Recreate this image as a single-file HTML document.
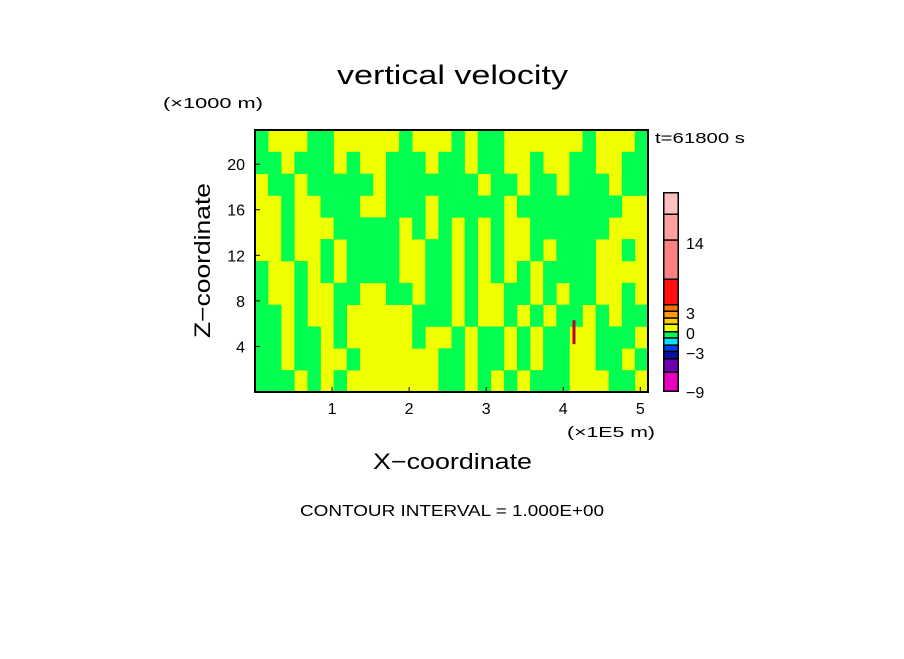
<!DOCTYPE html>
<html><head><meta charset="utf-8"><style>
body{margin:0;background:#fff;}
svg text{font-family:"Liberation Sans","DejaVu Sans",sans-serif;fill:#000;}
</style></head><body>
<svg id="chart" width="904" height="654" viewBox="0 0 904 654">
<rect width="904" height="654" fill="#fff"/>
<text x="337" y="84" font-size="27" textLength="231" lengthAdjust="spacingAndGlyphs">vertical velocity</text>
<text x="163" y="108" font-size="15" textLength="100" lengthAdjust="spacingAndGlyphs">(×1000 m)</text>
<text x="655" y="143" font-size="15" textLength="90" lengthAdjust="spacingAndGlyphs">t=61800 s</text>
<text x="567" y="437" font-size="15" textLength="88" lengthAdjust="spacingAndGlyphs">(×1E5 m)</text>
<text x="373" y="469" font-size="22" textLength="159" lengthAdjust="spacingAndGlyphs">X−coordinate</text>
<text x="0" y="0" font-size="22" textLength="155" lengthAdjust="spacingAndGlyphs" transform="translate(210,338) rotate(-90)">Z−coordinate</text>
<text x="300" y="516" font-size="16" textLength="304" lengthAdjust="spacingAndGlyphs">CONTOUR INTERVAL = 1.000E+00</text>
<g id="field"></g>
<g id="axes"></g>
<g id="cbar"></g>
</svg>
<script>
const xTicks=[1,2,3,4,5];
const zTicks=[4,8,12,16,20];
const xMax=5.1, zMax=23;
// coarse grid of contour band: 0 = yellow (0..1), 1 = green (-1..0); rows top->bottom
const gridRows=[
"GYYYGGYYYYYGYYYGYGGYYYYYYGYYYG",
"GGYGGGYGYYGGGYGGYGGYYGYYGGYYGG",
"YGGYGGGGGYGGGGGGGYGGYGGYGGGYGG",
"YYGYYGGGYYGGGYGGGGGYGGGGGGGGYY",
"YYGYYYGGGGGYGYGYGYGYYGGGGGGYYY",
"YYGYYGYGGGGYYGGYGYGYYGYGGGYYGY",
"GYYGYGYGGGGYYGGYGYGYGYGGGGYYYY",
"GYYGYYGGYYGGYGGYGYYGGYGYGGYYGY",
"GGYGYYGYYYYYGGGYGYYGYGYGGYGYGG",
"GGYGGYGYYYYYGYYGYGGYGYGGYYGGGY",
"GGYGGYYGYYYYYYGGYGGYGYGGYYGGYG",
"GGGYGYGYYYYYYYGGYGYGYGGGYYYGGY"];
const cbarColors=["#e800c0","#7000b0","#0a10a0","#0040ff","#00e4ff","#00ff50","#f0ff00","#ffd000","#ff9a00","#ff7000","#ff1010","#ff8080","#ffa0a0","#ffc0c0"];
const cbarLabelText=["−9","−3","0","3","14"];

const X0=255,X1=648,Y0=130,Y1=392;
const sx=v=>X0+v/xMax*(X1-X0);
const sz=v=>Y1-v/zMax*(Y1-Y0);
const NS="http://www.w3.org/2000/svg";
function mk(tag,attrs,parent){const e=document.createElementNS(NS,tag);for(const k in attrs)e.setAttribute(k,attrs[k]);parent.appendChild(e);return e;}
const field=document.getElementById('field');
const bg=mk('rect',{x:X0,y:Y0,width:X1-X0,height:Y1-Y0,fill:'#f0ff00'},field);


const nr=gridRows.length,nc=gridRows[0].length;
gridRows.forEach((row,r)=>row.split('').forEach((v,c)=>{
 if(v!=='G')return;
 const x=sx(c*xMax/nc),y=sz(zMax-r*zMax/nr);
 const e=mk('rect',{x:x,y:y,width:sx((c+1)*xMax/nc)-x+0.3,height:sz(zMax-(r+1)*zMax/nr)-y+0.3,fill:'#00ff50'},field);
 
 
}));
const upd=mk('rect',{x:sx(4.12),y:sz(6.3),width:3,height:sz(4.2)-sz(6.3),fill:'#c00030'},field);


const axes=document.getElementById('axes');
const fr=mk('rect',{x:X0,y:Y0,width:X1-X0,height:Y1-Y0,fill:'none',stroke:'#000','stroke-width':2},axes);


xTicks.forEach(t=>{
 const l=mk('line',{x1:sx(t),x2:sx(t),y1:Y1,y2:Y1-5,stroke:'#000'},axes);
 
 
 const tx=mk('text',{x:sx(t),y:Y1+22,'font-size':16,'text-anchor':'middle'},axes);tx.textContent=t;
 
 
});
zTicks.forEach(t=>{
 const l=mk('line',{x1:X0,x2:X0+5,y1:sz(t),y2:sz(t),stroke:'#000'},axes);
 
 
 const tx=mk('text',{x:X0-10,y:sz(t)+6,'font-size':16,'text-anchor':'end'},axes);tx.textContent=t;
 
 
});
const cb=document.getElementById('cbar');
const segH=[17.7,11.7,6,4.7,5.7,4.7,6,4.7,5.3,5,24,37.7,24.3,20];
const GAP=1.5;
const CX=664,CW=14;
const total=segH.reduce((a,b)=>a+b,0)+GAP*(segH.length+1);
const cbb=mk('rect',{x:CX-1,y:392-total,width:CW+2,height:total,fill:'#000'},cb);


let y=392-GAP;
cbarColors.forEach((col,i)=>{
 const h=segH[i];
 const e=mk('rect',{x:CX+0.5,y:y-h,width:CW-1,height:h,fill:col},cb);
 
 
 y-=h+GAP;
});
const labY=[398,359,339,319,249];
cbarLabelText.forEach((s,i)=>{
 const t=mk('text',{x:686,y:labY[i],'font-size':16},cb);t.textContent=s;
 
 
});
</script>
</body></html>
